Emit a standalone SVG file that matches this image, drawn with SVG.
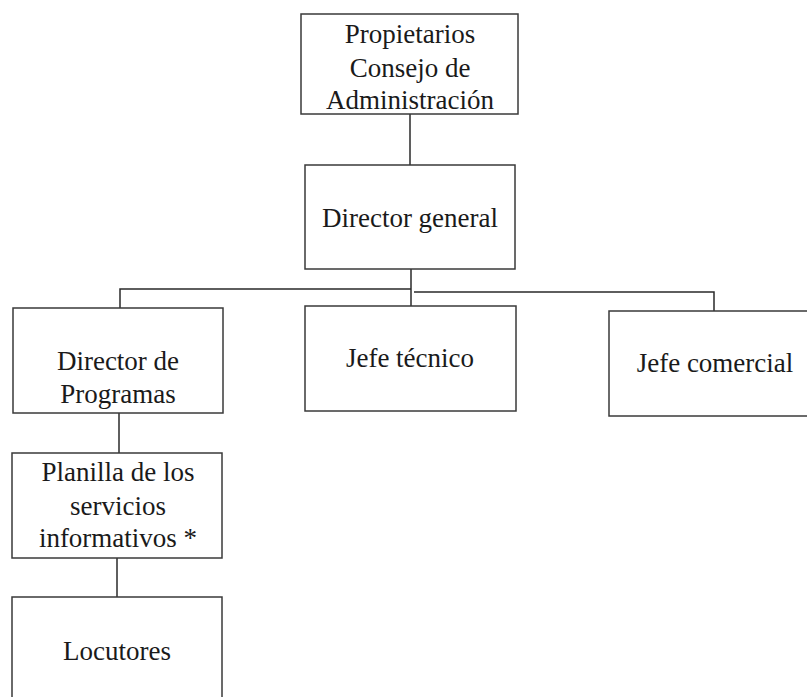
<svg xmlns="http://www.w3.org/2000/svg" width="807" height="697" viewBox="0 0 807 697">
<style>
.box{fill:#fff;stroke:#3a3a3a;stroke-width:1.5}
.lbl{font-family:"Liberation Serif","Times New Roman",serif;font-size:27px;fill:#1a1a1a;text-anchor:middle}
.con{stroke:#2a2a2a;stroke-width:1.5;fill:none}
</style>
<rect width="807" height="697" fill="#fff"/>
<g id="connectors">
<path class="con" d="M410 114V165"/>
<path class="con" d="M411 269V306"/>
<path class="con" d="M120 308V289H411"/>
<path class="con" d="M414 292H714V311"/>
<path class="con" d="M119 413V453"/>
<path class="con" d="M117 558V597"/>
</g>
<g id="propietarios"><rect class="box" x="301" y="14" width="217" height="100"/>
<text class="lbl" x="410" y="43">Propietarios</text><text class="lbl" x="410" y="77">Consejo de</text><text class="lbl" x="410" y="109">Administración</text></g>
<g id="director-general"><rect class="box" x="305" y="165" width="210" height="104"/>
<text class="lbl" x="410" y="227">Director general</text></g>
<g id="director-programas"><rect class="box" x="13" y="308" width="210" height="105"/>
<text class="lbl" x="118" y="370">Director de</text><text class="lbl" x="118" y="403">Programas</text></g>
<g id="jefe-tecnico"><rect class="box" x="305" y="306" width="211" height="105"/>
<text class="lbl" x="410" y="367">Jefe técnico</text></g>
<g id="jefe-comercial"><rect class="box" x="609" y="311" width="212" height="105"/>
<text class="lbl" x="715" y="372">Jefe comercial</text></g>
<g id="planilla"><rect class="box" x="12" y="453" width="210" height="105"/>
<text class="lbl" x="118" y="481">Planilla de los</text><text class="lbl" x="118" y="515">servicios</text><text class="lbl" x="118" y="547">informativos *</text></g>
<g id="locutores"><rect class="box" x="12" y="597" width="210" height="110"/>
<text class="lbl" x="117" y="660">Locutores</text></g>
</svg>
